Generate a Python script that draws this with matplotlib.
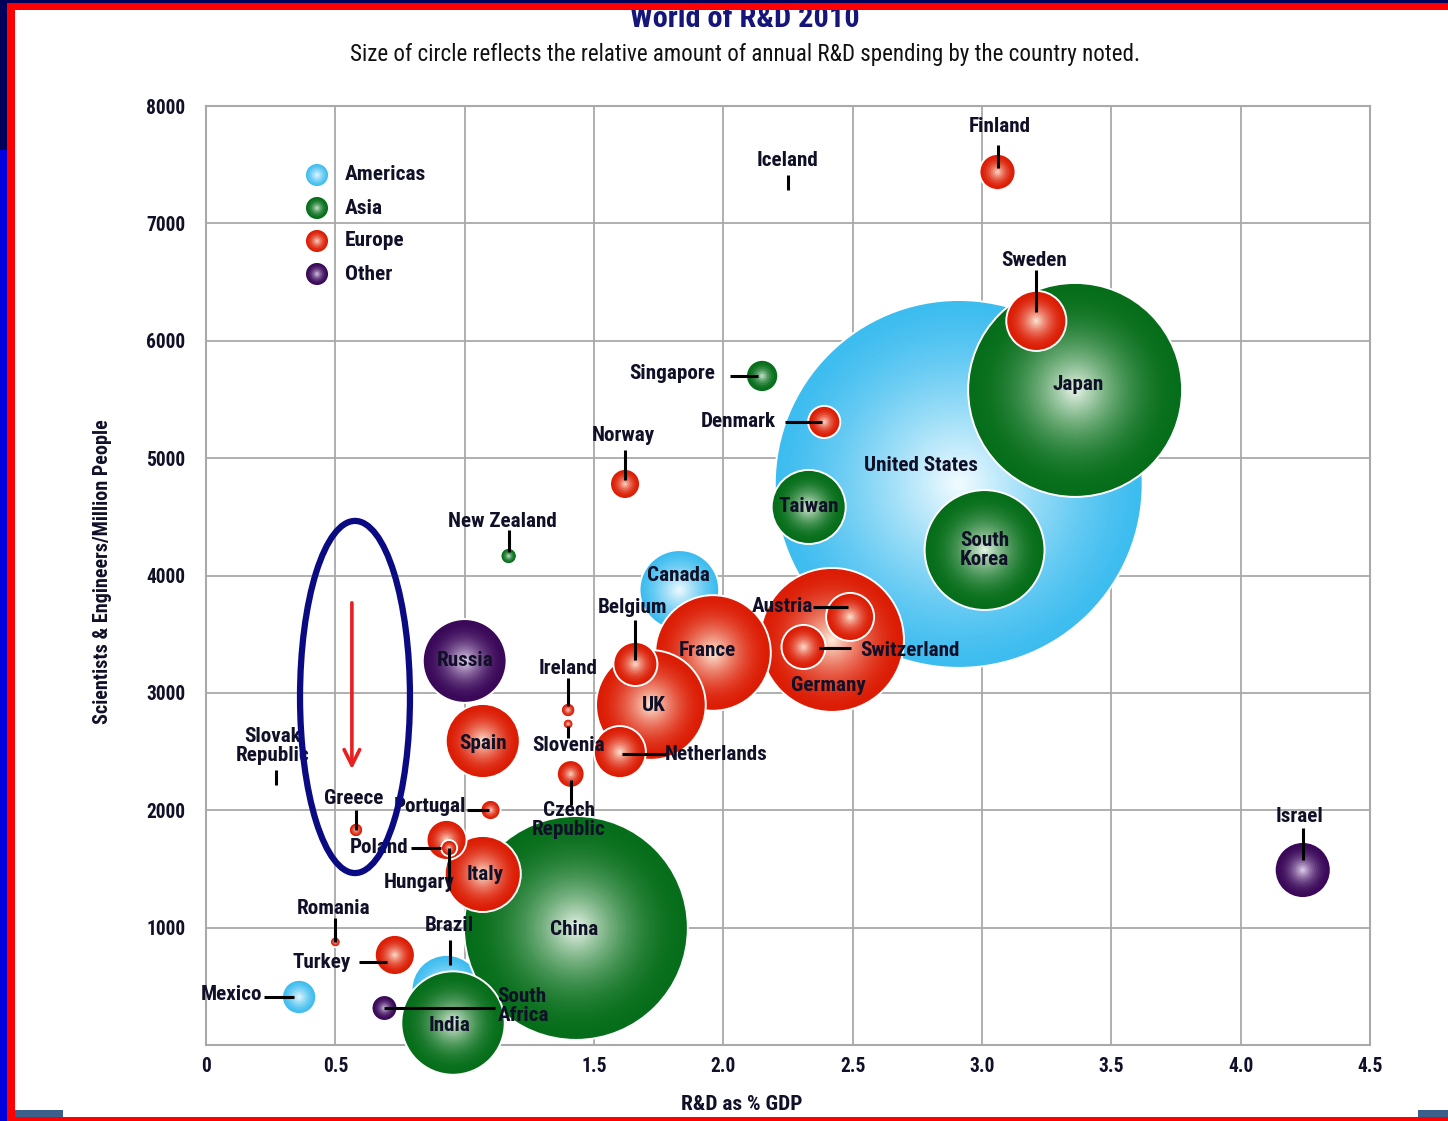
import numpy as np
import matplotlib
matplotlib.use("Agg")
import matplotlib.pyplot as plt
from matplotlib import font_manager
from matplotlib.patches import Ellipse, Rectangle
from matplotlib.colors import to_rgb

# R&D intensity vs. researcher density, bubble area ~ annual R&D spending
COUNTRIES = ["United States", "China", "Japan", "Germany", "South\nKorea", "France",
             "UK", "India", "Russia", "Canada", "Italy", "Taiwan", "Spain", "Brazil",
             "Sweden", "Israel", "Netherlands", "Austria", "Switzerland", "Belgium",
             "Poland", "Turkey", "Finland", "Mexico", "Singapore", "Denmark", "Norway",
             "Czech\nRepublic", "South\nAfrica", "Portugal", "New Zealand", "Hungary",
             "Ireland", "Greece", "Slovenia", "Romania", "Iceland", "Slovak\nRepublic"]
REGION = ["Americas", "Asia", "Asia", "Europe", "Asia", "Europe",
          "Europe", "Asia", "Other", "Americas", "Europe", "Asia", "Europe", "Americas",
          "Europe", "Other", "Europe", "Europe", "Europe", "Europe",
          "Europe", "Europe", "Europe", "Americas", "Asia", "Europe", "Europe",
          "Europe", "Other", "Europe", "Asia", "Europe",
          "Europe", "Europe", "Europe", "Europe", "Europe", "Europe"]
RD_PCT_GDP = [2.91, 1.43, 3.36, 2.42, 3.01, 1.96,
              1.72, 0.955, 1.00, 1.83, 1.07, 2.33, 1.07, 0.93,
              3.21, 4.24, 1.60, 2.49, 2.31, 1.66,
              0.93, 0.73, 3.06, 0.36, 2.15, 2.39, 1.62,
              1.41, 0.69, 1.10, 1.17, 0.94,
              1.40, 0.58, 1.40, 0.50, 2.25, 0.27]
SCI_PER_MILLION = [4780, 997, 5581, 3451, 4217, 3340,
                   2897, 187, 3272, 3877, 1457, 4584, 2590, 469,
                   6169, 1491, 2496, 3647, 3391, 3246,
                   1747, 767, 7438, 409, 5700, 5308, 4780,
                   2309, 315, 2002, 4166, 1678,
                   2854, 1832, 2735, 878, 7285, 2215]
SPEND_BN = [405, 150, 137, 62, 43, 40,
            36, 32, 21, 19, 17.3, 16.4, 16.4, 14.7,
            10.8, 9.4, 8.1, 6.9, 5.8, 5.8,
            4.8, 4.8, 3.9, 3.5, 3.1, 3.1, 2.7,
            2.3, 2.0, 1.2, 0.77, 0.77,
            0.59, 0.59, 0.3, 0.3, 0.0, 0.0]

LEGEND_REGIONS = ["Americas", "Asia", "Europe", "Other"]
X_TICKS = [0, 0.5, 1.0, 1.5, 2.0, 2.5, 3.0, 3.5, 4.0, 4.5]
X_TICK_LABELS = ["0", "0.5", "1.0", "1.5", "2.0", "2.5", "3.0", "3.5", "4.0", "4.5"]
Y_TICKS = [0, 1000, 2000, 3000, 4000, 5000, 6000, 7000, 8000]
Y_TICK_LABELS = ["", "1000", "2000", "3000", "4000", "5000", "6000", "7000", "8000"]

EDGE = {"Americas": "#3cbcef", "Asia": "#066e1a", "Europe": "#dc1c04", "Other": "#3a0858"}
CORE = {"Americas": "#f4fcff", "Asia": "#eef8ee", "Europe": "#fff3e2", "Other": "#efe2fa"}
FALLOFF = {"Americas": 1.3, "Asia": 2.0, "Europe": 1.8, "Other": 2.0}

# label placement in pixels from bubble centre: (dx, dy, ha, leader line ends)
LABEL_LAYOUT = {
    "United States": (-38, 18, "center", None),
    "China": (-2, -2, "center", None),
    "Japan": (3, 5, "center", None),
    "Germany": (-4, -46, "center", None),
    "South\nKorea": (0, 0, "center", None),
    "France": (-6, 2, "center", None),
    "UK": (3, -1, "center", None),
    "India": (-3, -2, "center", None),
    "Russia": (0, 0, "center", None),
    "Canada": (-1, 14, "center", None),
    "Italy": (2, -1, "center", None),
    "Taiwan": (0, 0, "center", None),
    "Spain": (0, -3, "center", None),
    "Brazil": (3, 64, "center", ((3, 50), (3, 25))),
    "Sweden": (-2, 60, "center", ((0, 51), (0, 9))),
    "Israel": (-3, 53, "center", ((0, 42), (0, 10))),
    "Netherlands": (45, -2, "left", ((2, -2), (46, -2))),
    "Austria": (-37, 10, "right", ((-37, 10), (-2, 10))),
    "Switzerland": (57, -4, "left", ((15, -1), (47, -1))),
    "Belgium": (-3, 57, "center", ((0, 44), (0, 4))),
    "Poland": (-38, -8, "right", ((-36, -8), (-6, -8))),
    "Turkey": (-44, -8, "right", ((-36, -7), (-8, -7))),
    "Finland": (2, 45, "center", ((0, 27), (0, 4))),
    "Mexico": (-37, 2, "right", ((-35, 0), (-5, 0))),
    "Singapore": (-47, 2, "right", ((-32, 0), (-4, 0))),
    "Denmark": (-48, 0, "right", ((-39, 0), (-2, 0))),
    "Norway": (-2, 48, "center", ((0, 34), (0, 4))),
    "Czech\nRepublic": (-2, -46, "center", ((0, -6), (0, -31))),
    "South\nAfrica": (113, 2, "left", ((0, 0), (111, 0))),
    "Portugal": (-24, 4, "right", ((-24, 0), (-2, 0))),
    "New Zealand": (-6, 35, "center", ((0, 26), (0, 4))),
    "Hungary": (-30, -34, "center", ((0, 0), (0, -42))),
    "Ireland": (0, 42, "center", ((0, 32), (0, 4))),
    "Greece": (-2, 31, "center", ((0, 20), (0, 0))),
    "Slovenia": (0, -22, "center", ((0, -2), (0, -14))),
    "Romania": (-2, 33, "center", ((0, 24), (0, 0))),
    "Iceland": (0, 29, "center", ((0, 15), (0, 0))),
    "Slovak\nRepublic": (-3, 39, "center", ((0, 15), (0, 0))),
}

PX_PER_SQRT_BN = 9.14
W, H = 1448, 1121
INK = "#101028"

# pick the narrowest sans available; sizes below are scaled to keep text widths
entries = font_manager.fontManager.ttflist
installed = {f.name for f in entries}
narrow = [f.name for f in entries
          if "Narrow" in f.name or "Condensed" in f.name
          or str(f.stretch) in ("condensed", "semi-condensed", "extra-condensed")]
preferred = ["Liberation Sans Narrow", "Roboto Condensed", "Open Sans Condensed",
             "Noto Sans Condensed", "DejaVu Sans"]
FAMILY, WIDTH = None, 1.0
for name in preferred:
    if name in narrow:
        FAMILY, WIDTH = name, 0.76
        break
if FAMILY is None and narrow:
    FAMILY, WIDTH = narrow[0], 0.78
if FAMILY is None:
    FAMILY, WIDTH = ("Liberation Sans", 0.9) if "Liberation Sans" in installed else ("DejaVu Sans", 1.0)

plt.rcParams["font.family"] = [FAMILY, "DejaVu Sans"]
plt.rcParams["font.stretch"] = "condensed"


def fs(base):
    return base / WIDTH


fig = plt.figure(figsize=(W / 100, H / 100), dpi=100, facecolor="white")
ax = fig.add_axes([206 / W, (H - 1045) / H, 1164 / W, 939 / H])
ax.set_xlim(0, 4.5)
ax.set_ylim(0, 8000)


def ball(x, y, r_px, region, zorder, transform):
    """Shaded sphere made of stacked discs, outer disc first."""
    edge = np.array(to_rgb(EDGE[region]))
    core = np.array(to_rgb(CORE[region]))
    n = max(8, int(r_px / 2.0))
    u = np.linspace(1.0, 0.03, n)
    mix = (1 - u) ** FALLOFF[region]
    cols = edge + (core - edge) * mix[:, None]
    sizes = (2 * r_px * u * 0.72) ** 2
    lws = np.zeros(n)
    lws[0] = 1.4
    ecs = ["white"] + ["none"] * (n - 1)
    ax.scatter(np.full(n, x), np.full(n, y), s=sizes, c=cols, edgecolors=ecs,
               linewidths=lws, zorder=zorder, clip_on=False, transform=transform)


def shift(x, y, dx, dy):
    px, py = ax.transData.transform((x, y))
    return ax.transData.inverted().transform((px + dx, py + dy))


# bubbles layered region by region, larger ones first inside each region
order = sorted(range(len(COUNTRIES)),
               key=lambda i: (LEGEND_REGIONS.index(REGION[i]), -SPEND_BN[i]))
for rank, i in enumerate(order):
    if SPEND_BN[i] <= 0:
        continue
    r = PX_PER_SQRT_BN * np.sqrt(SPEND_BN[i])
    ball(RD_PCT_GDP[i], SCI_PER_MILLION[i], r, REGION[i], 3 + rank * 0.01, ax.transData)

# country labels and leader lines
for i, name in enumerate(COUNTRIES):
    x, y = RD_PCT_GDP[i], SCI_PER_MILLION[i]
    dx, dy, ha, leader = LABEL_LAYOUT[name]
    tx, ty = shift(x, y, dx, dy)
    ax.text(tx, ty, name, ha=ha, va="center", fontsize=fs(11.6), fontweight="bold",
            color=INK, zorder=12, linespacing=0.95)
    if leader is not None:
        (a0, b0), (a1, b1) = leader
        p0 = shift(x, y, a0, b0)
        p1 = shift(x, y, a1, b1)
        ax.plot([p0[0], p1[0]], [p0[1], p1[1]], color="black", lw=2.2,
                solid_capstyle="butt", zorder=11, clip_on=False)

# region key
for k, reg in enumerate(LEGEND_REGIONS):
    ly = (1045 - 175 - 33 * k) / 939
    ball(111 / 1164, ly, 12, reg, 5, ax.transAxes)
    ax.text(139 / 1164, ly, reg, transform=ax.transAxes, ha="left", va="center",
            fontsize=fs(11.7), fontweight="bold", color=INK, zorder=12)

# highlight around Greece
ax.add_patch(Ellipse((0.576, 2965), 0.425, 3000, fill=False, edgecolor="#0a0a82",
                     lw=4.5, zorder=13, clip_on=False))
ax.annotate("", xy=(0.564, 2326), xytext=(0.564, 3791),
            arrowprops=dict(arrowstyle="->", color="#e82020", lw=2.6,
                            mutation_scale=28), zorder=13)

ax.set_xticks(X_TICKS)
ax.set_xticklabels(X_TICK_LABELS)
ax.set_yticks(Y_TICKS)
ax.set_yticklabels(Y_TICK_LABELS)
ax.tick_params(length=0, labelsize=fs(10.7), labelcolor=INK)
ax.tick_params(axis="x", pad=9)
ax.tick_params(axis="y", pad=15)
for lab in ax.get_xticklabels() + ax.get_yticklabels():
    lab.set_fontweight("bold")
ax.set_axisbelow(True)
ax.grid(True, color="#a9a9a9", lw=1.3)
for sp in ax.spines.values():
    sp.set_color("#a9a9a9")
    sp.set_linewidth(1.5)

ax.set_xlabel("R&D as % GDP", fontsize=fs(11.7), fontweight="bold", color=INK, va="center")
ax.xaxis.set_label_coords((742 - 206) / 1164, -(1104 - 1045) / 939)
ax.set_ylabel("Scientists & Engineers/Million People", fontsize=fs(11.0), fontweight="bold",
              color=INK, va="center")
ax.yaxis.set_label_coords((103 - 206) / 1164, (1045 - 572) / 939)

fig.text(745 / W, 1 - 19 / H, "World of R&D 2010", ha="center", va="center",
         fontsize=fs(16.6), fontweight="bold", color="#15157a")
fig.text(745 / W, 1 - 54 / H,
         "Size of circle reflects the relative amount of annual R&D spending by the country noted.",
         ha="center", va="center", fontsize=fs(12.6), color="#111111")


def band(x0, y0, x1, y1, color):
    fig.add_artist(Rectangle((x0 / W, 1 - y1 / H), (x1 - x0) / W, (y1 - y0) / H,
                             transform=fig.transFigure, facecolor=color,
                             edgecolor="none", zorder=20))


# slide frame
band(0, 0, W, 3, "#00005a")
band(0, 0, 7, 150, "#00005a")
band(0, 150, 7, H, "#0000dd")
band(7, 3, 15, H, "#ff0000")
band(7, 3, W, 10, "#ff0000")
band(7, 1117, W, H, "#ff0000")
band(15, 1110, 63, 1117, "#3d5f8c")
band(1418, 1110, W, 1117, "#3d5f8c")

fig.savefig("out.png", dpi=100, facecolor="white")
